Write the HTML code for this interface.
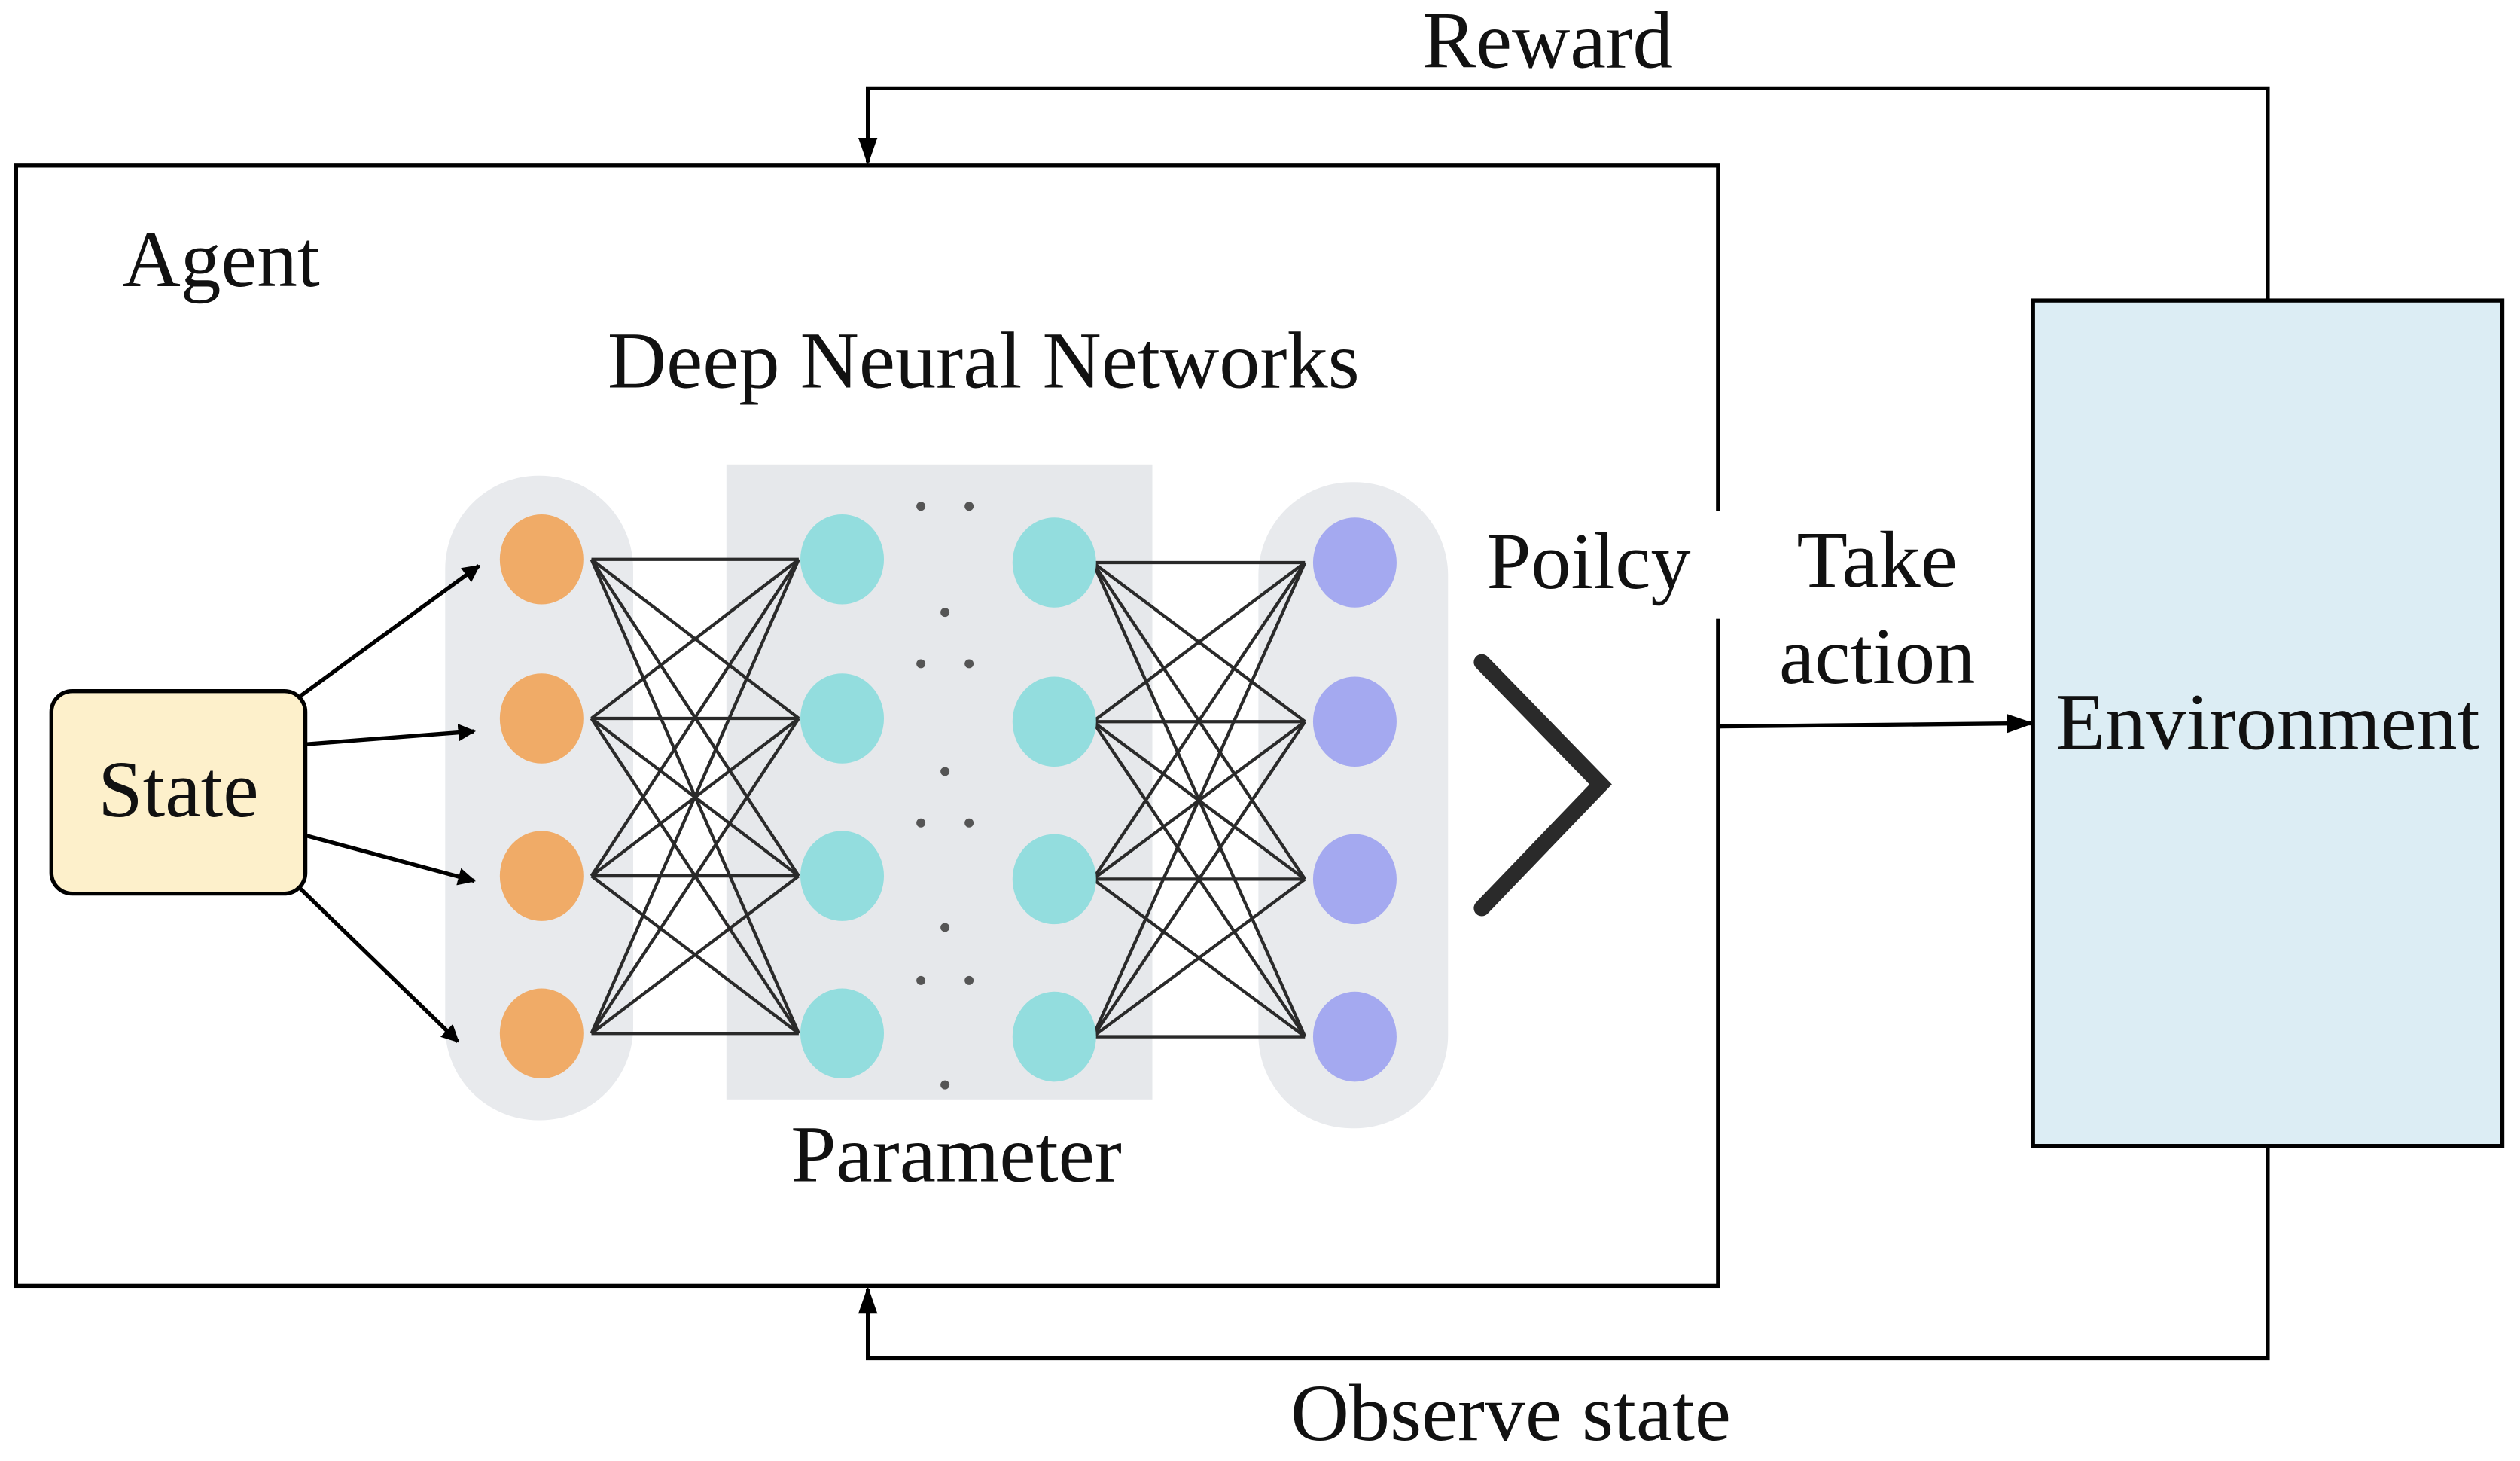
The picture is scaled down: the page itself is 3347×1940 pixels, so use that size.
<!DOCTYPE html>
<html><head><meta charset="utf-8"><style>
html,body{margin:0;padding:0;background:#fff;}
svg{display:block;}
text{font-family:"Liberation Serif",serif;fill:#111;}
</style></head><body>
<svg width="3347" height="1940" viewBox="0 0 1568 909" preserveAspectRatio="none" xmlns="http://www.w3.org/2000/svg">
<defs>
<marker id="ah" viewBox="0 0 10 10" refX="9" refY="5" markerWidth="11" markerHeight="11" markerUnits="userSpaceOnUse" orient="auto"><path d="M0,0 L10,5 L0,10 z" fill="#000"/></marker>
<marker id="ah2" viewBox="0 0 10 10" refX="9" refY="5" markerWidth="17" markerHeight="17" markerUnits="userSpaceOnUse" orient="auto"><path d="M0,1.5 L10,5 L0,8.5 z" fill="#000"/></marker>
</defs>
<rect x="0" y="0" width="1568" height="909" fill="#fff"/>
<rect x="10" y="103" width="1059" height="697" fill="none" stroke="#000" stroke-width="2.5"/>
<rect x="1064" y="318" width="10" height="67" fill="#fff"/>
<rect x="1265" y="187" width="292" height="526" fill="#dcedf4" stroke="#000" stroke-width="2.5"/>
<polyline points="1411,187 1411,55 540,55 540,101" fill="none" stroke="#000" stroke-width="2.5" marker-end="url(#ah2)"/>
<polyline points="1411,713 1411,845 540,845 540,802" fill="none" stroke="#000" stroke-width="2.5" marker-end="url(#ah2)"/>
<line x1="1070" y1="452" x2="1264" y2="450" stroke="#000" stroke-width="2.5" marker-end="url(#ah2)"/>
<rect x="277" y="296" width="117" height="401" rx="58" fill="#e8eaed"/>
<rect x="452" y="289" width="265" height="395" fill="#e6e8eb"/>
<rect x="783" y="300" width="118" height="402" rx="58" fill="#e8eaed"/>
<g stroke="#2a2a2a" stroke-width="2">
<line x1="368" y1="348" x2="497" y2="348"/><line x1="368" y1="348" x2="497" y2="447"/><line x1="368" y1="348" x2="497" y2="545"/><line x1="368" y1="348" x2="497" y2="643"/>
<line x1="368" y1="447" x2="497" y2="348"/><line x1="368" y1="447" x2="497" y2="447"/><line x1="368" y1="447" x2="497" y2="545"/><line x1="368" y1="447" x2="497" y2="643"/>
<line x1="368" y1="545" x2="497" y2="348"/><line x1="368" y1="545" x2="497" y2="447"/><line x1="368" y1="545" x2="497" y2="545"/><line x1="368" y1="545" x2="497" y2="643"/>
<line x1="368" y1="643" x2="497" y2="348"/><line x1="368" y1="643" x2="497" y2="447"/><line x1="368" y1="643" x2="497" y2="545"/><line x1="368" y1="643" x2="497" y2="643"/>
<line x1="680" y1="350" x2="812" y2="350"/><line x1="680" y1="350" x2="812" y2="449"/><line x1="680" y1="350" x2="812" y2="547"/><line x1="680" y1="350" x2="812" y2="645"/>
<line x1="680" y1="449" x2="812" y2="350"/><line x1="680" y1="449" x2="812" y2="449"/><line x1="680" y1="449" x2="812" y2="547"/><line x1="680" y1="449" x2="812" y2="645"/>
<line x1="680" y1="547" x2="812" y2="350"/><line x1="680" y1="547" x2="812" y2="449"/><line x1="680" y1="547" x2="812" y2="547"/><line x1="680" y1="547" x2="812" y2="645"/>
<line x1="680" y1="645" x2="812" y2="350"/><line x1="680" y1="645" x2="812" y2="449"/><line x1="680" y1="645" x2="812" y2="547"/><line x1="680" y1="645" x2="812" y2="645"/>
</g>
<g fill="#f0ab67"><ellipse cx="337" cy="348" rx="26" ry="28"/><ellipse cx="337" cy="447" rx="26" ry="28"/><ellipse cx="337" cy="545" rx="26" ry="28"/><ellipse cx="337" cy="643" rx="26" ry="28"/></g>
<g fill="#93ddde"><ellipse cx="524" cy="348" rx="26" ry="28"/><ellipse cx="524" cy="447" rx="26" ry="28"/><ellipse cx="524" cy="545" rx="26" ry="28"/><ellipse cx="524" cy="643" rx="26" ry="28"/>
<ellipse cx="656" cy="350" rx="26" ry="28"/><ellipse cx="656" cy="449" rx="26" ry="28"/><ellipse cx="656" cy="547" rx="26" ry="28"/><ellipse cx="656" cy="645" rx="26" ry="28"/></g>
<g fill="#a4a9f0"><ellipse cx="843" cy="350" rx="26" ry="28"/><ellipse cx="843" cy="449" rx="26" ry="28"/><ellipse cx="843" cy="547" rx="26" ry="28"/><ellipse cx="843" cy="645" rx="26" ry="28"/></g>
<g fill="#555">
<circle cx="573" cy="315" r="2.8"/><circle cx="603" cy="315" r="2.8"/><circle cx="588" cy="381" r="2.8"/>
<circle cx="573" cy="413" r="2.8"/><circle cx="603" cy="413" r="2.8"/><circle cx="588" cy="480" r="2.8"/>
<circle cx="573" cy="512" r="2.8"/><circle cx="603" cy="512" r="2.8"/><circle cx="588" cy="577" r="2.8"/>
<circle cx="573" cy="610" r="2.8"/><circle cx="603" cy="610" r="2.8"/><circle cx="588" cy="675" r="2.8"/>
</g>
<polyline points="922,412 996,488 922,565" fill="none" stroke="#2a2a2a" stroke-width="10" stroke-linecap="round" stroke-linejoin="miter"/>
<rect x="32" y="430" width="158" height="126" rx="13" fill="#fdf0cb" stroke="#000" stroke-width="2.5"/>
<g stroke="#000" stroke-width="2.5">
<line x1="187" y1="433" x2="298" y2="352" marker-end="url(#ah)"/>
<line x1="191" y1="463" x2="295" y2="455" marker-end="url(#ah)"/>
<line x1="191" y1="520" x2="295" y2="548" marker-end="url(#ah)"/>
<line x1="187" y1="553" x2="285" y2="648" marker-end="url(#ah)"/>
</g>
<g font-size="50">
<text x="963" y="42" text-anchor="middle" textLength="156" lengthAdjust="spacingAndGlyphs">Reward</text>
<text x="76" y="178" textLength="123" lengthAdjust="spacingAndGlyphs">Agent</text>
<text x="378" y="241" textLength="468" lengthAdjust="spacingAndGlyphs">Deep Neural Networks</text>
<text x="925" y="366" textLength="127" lengthAdjust="spacingAndGlyphs">Poilcy</text>
<text x="1168" y="365" text-anchor="middle" textLength="100" lengthAdjust="spacingAndGlyphs">Take</text>
<text x="1168" y="425" text-anchor="middle" textLength="122" lengthAdjust="spacingAndGlyphs">action</text>
<text x="1411" y="466" text-anchor="middle" textLength="264" lengthAdjust="spacingAndGlyphs">Environment</text>
<text x="111" y="508" text-anchor="middle" textLength="100" lengthAdjust="spacingAndGlyphs">State</text>
<text x="595" y="735" text-anchor="middle" textLength="206" lengthAdjust="spacingAndGlyphs">Parameter</text>
<text x="940" y="896" text-anchor="middle" textLength="274" lengthAdjust="spacingAndGlyphs">Observe state</text>
</g>
</svg>
</body></html>
